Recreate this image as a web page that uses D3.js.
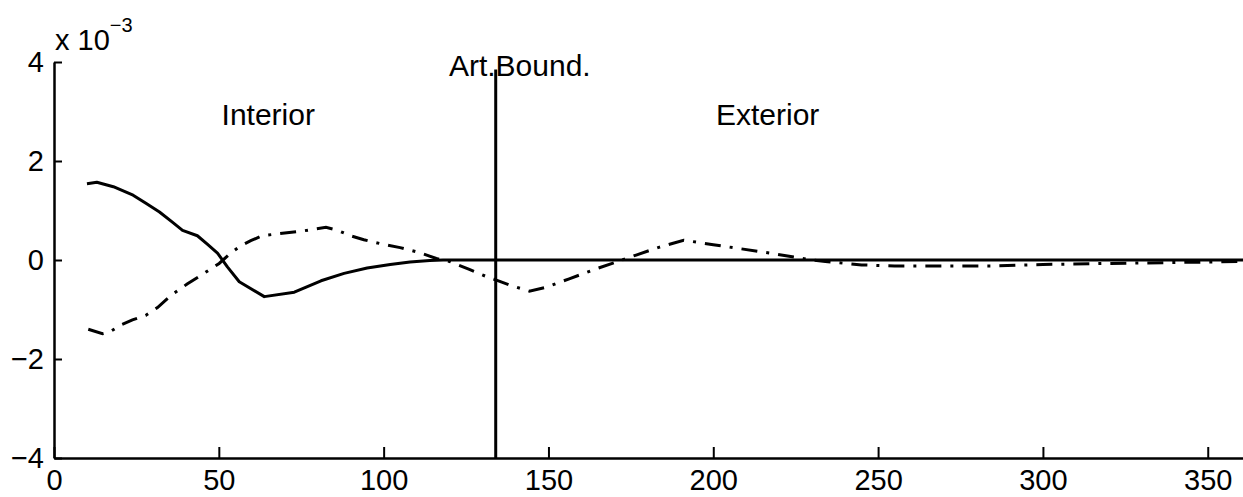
<!DOCTYPE html>
<html>
<head>
<meta charset="utf-8">
<script src="https://cdn.jsdelivr.net/npm/d3@7"></script>
<style>
  html, body { margin: 0; padding: 0; background: #fff; }
  svg { display: block; }
  text { font-family: "Liberation Sans", Arial, Helvetica, sans-serif; fill: #000; }
</style>
</head>
<body>
<svg id="chart" width="1243" height="497"></svg>
<script>
// solid curve (x, value x 1e-3)
const solidX = [10, 13, 18, 24, 28, 32, 36, 39, 43.5, 46.5, 49.6, 52.6, 56.2, 63.8, 72.9, 81, 88, 95, 102, 108, 114, 118, 134, 200, 300, 362];
const solidY = [1.54, 1.57, 1.48, 1.31, 1.14, 0.97, 0.76, 0.6, 0.49, 0.32, 0.14, -0.14, -0.44, -0.74, -0.65, -0.42, -0.27, -0.16, -0.09, -0.04, -0.01, 0, 0, 0, 0, 0];

// dash-dot curve
const dashX = [10.4, 14.7, 16.7, 20.7, 23.8, 27.8, 31.4, 35.4, 40.5, 45.5, 50.1, 53.6, 56.7, 59.7, 63.2, 66.8, 74.9, 82.5, 86, 90, 94, 99, 105, 110.8, 116, 120, 126, 131, 134, 138, 144.2, 149.3, 156.3, 164.4, 171.5, 176.6, 183.7, 191, 200, 218, 228, 234, 245, 255, 270, 285, 300, 320, 340, 362];
const dashY = [-1.4, -1.49, -1.46, -1.3, -1.21, -1.12, -0.96, -0.72, -0.48, -0.27, -0.07, 0.14, 0.29, 0.39, 0.49, 0.52, 0.58, 0.66, 0.6, 0.49, 0.41, 0.33, 0.25, 0.15, 0.03, -0.03, -0.19, -0.33, -0.4, -0.5, -0.63, -0.55, -0.38, -0.18, -0.02, 0.1, 0.26, 0.4, 0.31, 0.13, 0.02, -0.03, -0.1, -0.12, -0.12, -0.12, -0.09, -0.07, -0.05, -0.03];

const xTicks = [0, 50, 100, 150, 200, 250, 300, 350];
const yTicks = [-4, -2, 0, 2, 4];
const boundaryX = 134;
const labels = [
  { text: "Interior", x: 65, y: 2.73, anchor: "middle" },
  { text: "Exterior", x: 216.5, y: 2.73, anchor: "middle" },
  { text: "Art.Bound.", x: 119.8, y: 3.72, anchor: "start" },
];

const svg = d3.select("#chart");
const x = d3.scaleLinear().domain([0, 361]).range([54, 1244]);
const y = d3.scaleLinear().domain([-4, 4]).range([458, 62]);

const xAxis = svg.append("g")
  .attr("transform", `translate(0,${y(-4)})`)
  .call(d3.axisBottom(x).tickValues(xTicks).tickSizeInner(-11).tickSizeOuter(0).tickPadding(11));
const yAxis = svg.append("g")
  .attr("transform", `translate(${x(0)},0)`)
  .call(d3.axisLeft(y).tickValues(yTicks).tickSizeInner(-8).tickSizeOuter(0).tickPadding(10).tickFormat(d3.format("d")));

[xAxis, yAxis].forEach((g) => {
  g.selectAll("path.domain").attr("stroke", "#000").attr("stroke-width", 2.5);
  g.selectAll(".tick line").attr("stroke", "#000").attr("stroke-width", 2);
  g.selectAll(".tick text")
    .attr("font-size", 29)
    .attr("font-family", "'Liberation Sans', Arial, Helvetica, sans-serif")
    .attr("fill", "#000");
});

// exponent label
const expo = svg.append("text")
  .attr("x", x(0) + 1)
  .attr("y", y(4) - 12)
  .attr("font-size", 29);
expo.append("tspan").text("x 10");
expo.append("tspan").attr("font-size", 20).attr("dy", -18).text("\u22123");

const line = d3.line().x((d) => x(d[0])).y((d) => y(d[1]));

svg.append("path")
  .datum(solidX.map((v, i) => [v, solidY[i]]))
  .attr("fill", "none")
  .attr("stroke", "#000")
  .attr("stroke-width", 3)
  .attr("stroke-linejoin", "round")
  .attr("d", line);

svg.append("path")
  .datum(dashX.map((v, i) => [v, dashY[i]]))
  .attr("fill", "none")
  .attr("stroke", "#000")
  .attr("stroke-width", 3)
  .attr("stroke-dasharray", "16,9,3,9")
  .attr("d", line);

// artificial boundary
svg.append("line")
  .attr("x1", x(boundaryX)).attr("x2", x(boundaryX))
  .attr("y1", y(3.85)).attr("y2", y(-4))
  .attr("stroke", "#000")
  .attr("stroke-width", 3);

svg.append("g")
  .selectAll("text")
  .data(labels)
  .join("text")
  .attr("x", (d) => x(d.x))
  .attr("y", (d) => y(d.y))
  .attr("text-anchor", (d) => d.anchor)
  .attr("font-size", 30)
  .text((d) => d.text);
</script>
</body>
</html>
